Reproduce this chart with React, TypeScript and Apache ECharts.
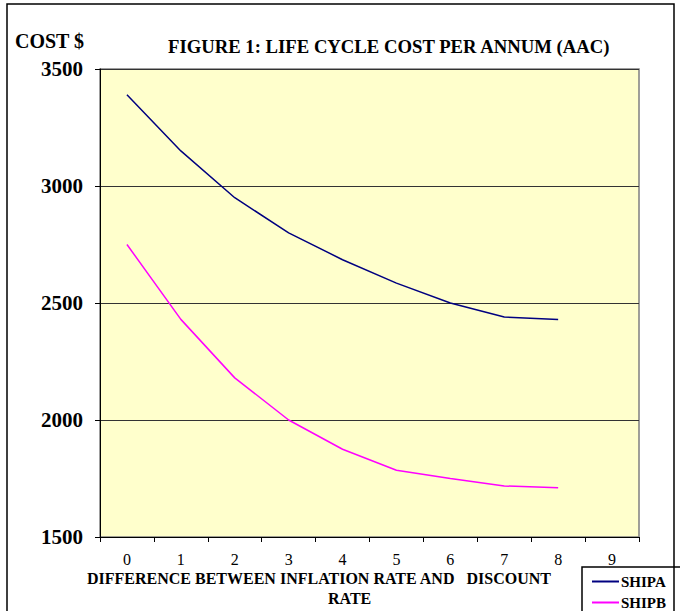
import React, { useEffect, useRef } from "react";
import * as echarts from "echarts";

const categories = ["0", "1", "2", "3", "4", "5", "6", "7", "8", "9"];
const shipA = [3390, 3150, 2950, 2800, 2685, 2585, 2500, 2440, 2430, null];
const shipB = [2750, 2430, 2180, 2000, 1875, 1785, 1750, 1718, 1710, null];
const yTicks = { min: 1500, max: 3500, interval: 500 };

export default function App() {
  const ref = useRef<HTMLDivElement>(null);
  useEffect(() => {
    document.body.style.margin = "0";
    const chart = echarts.init(ref.current!, null, { renderer: "svg" });
    const font = "Liberation Serif";
    chart.setOption({
      animation: false,
      backgroundColor: "#ffffff",
      grid: {
        left: 100,
        top: 69,
        width: 539,
        height: 468,
        show: true,
        backgroundColor: "#FFFFCC",
        borderColor: "#808080",
        borderWidth: 1.5,
      },
      xAxis: {
        type: "category",
        data: categories,
        boundaryGap: true,
        axisLine: { lineStyle: { color: "#000", width: 1 } },
        axisTick: { show: true, length: 5, alignWithLabel: false, lineStyle: { color: "#000" } },
        axisLabel: { color: "#000", fontFamily: font, fontSize: 16, margin: 14 },
        splitLine: { show: false },
      },
      yAxis: {
        type: "value",
        min: yTicks.min,
        max: yTicks.max,
        interval: yTicks.interval,
        axisLine: { show: true, lineStyle: { color: "#000", width: 1 } },
        axisTick: { show: true, length: 5, lineStyle: { color: "#000" } },
        axisLabel: {
          color: "#000",
          fontFamily: font,
          fontSize: 21,
          fontWeight: "bold",
          margin: 17,
          formatter: (v: number) => String(v),
        },
        splitLine: { show: true, lineStyle: { color: "#333", width: 1.2 } },
      },
      legend: {
        orient: "vertical",
        left: 592,
        top: 574,
        height: 60,
        width: 90,
        padding: 0,
        itemWidth: 27,
        itemHeight: 2,
        itemGap: 6,
        icon: "rect",
        textStyle: { color: "#000", fontFamily: font, fontSize: 15, fontWeight: "bold", padding: [0, 0, 0, -3] },
        data: ["SHIPA", "SHIPB"],
      },
      series: [
        {
          name: "SHIPA",
          type: "line",
          data: shipA,
          showSymbol: false,
          symbol: "none",
          lineStyle: { color: "#000080", width: 1.5 },
          itemStyle: { color: "#000080" },
        },
        {
          name: "SHIPB",
          type: "line",
          data: shipB,
          showSymbol: false,
          symbol: "none",
          lineStyle: { color: "#FF00FF", width: 1.5 },
          itemStyle: { color: "#FF00FF" },
        },
      ],
      graphic: [
        {
          type: "rect",
          shape: { x: 7, y: 4, width: 667, height: 640 },
          style: { fill: "none", stroke: "#000", lineWidth: 1.5 },
          silent: true,
          z: 100,
        },
        {
          type: "rect",
          shape: { x: 582, y: 567, width: 100, height: 60 },
          style: { fill: "none", stroke: "#000", lineWidth: 1.5 },
          silent: true,
          z: 100,
        },
        {
          type: "text",
          left: 15,
          top: 31,
          style: { text: "COST $", fill: "#000", font: `bold 20px ${font}` },
        },
        {
          type: "text",
          left: 168,
          top: 37,
          style: { text: "FIGURE 1: LIFE CYCLE COST PER ANNUM (AAC)", fill: "#000", font: `bold 18.7px ${font}` },
        },
        {
          type: "text",
          left: 87,
          top: 570,
          style: { text: "DIFFERENCE BETWEEN INFLATION RATE AND   DISCOUNT", fill: "#000", font: `bold 16px ${font}` },
        },
        {
          type: "text",
          left: 328,
          top: 590,
          style: { text: "RATE", fill: "#000", font: `bold 16px ${font}` },
        },
      ],
    });
    return () => chart.dispose();
  }, []);
  return <div ref={ref} style={{ width: 680, height: 611, position: "absolute", left: 0, top: 0 }} />;
}
